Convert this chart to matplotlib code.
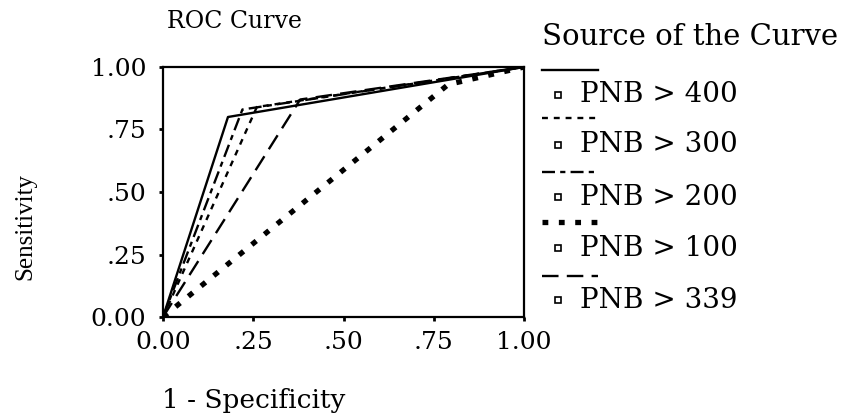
import matplotlib
matplotlib.use("Agg")
import matplotlib.pyplot as plt
from matplotlib.lines import Line2D

# ROC points (1 - specificity, sensitivity)
series_labels = ["PNB > 400", "PNB > 300", "PNB > 200", "PNB > 100", "PNB > 339"]
fpr_400 = [0.0, 0.18, 1.0]
tpr_400 = [0.0, 0.80, 1.0]
fpr_300 = [0.0, 0.26, 1.0]
tpr_300 = [0.0, 0.84, 1.0]
fpr_200 = [0.0, 0.22, 1.0]
tpr_200 = [0.0, 0.83, 1.0]
fpr_100 = [0.0, 0.79, 1.0]
tpr_100 = [0.0, 0.93, 1.0]
fpr_339 = [0.0, 0.38, 1.0]
tpr_339 = [0.0, 0.87, 1.0]

tick_values = [0.0, 0.25, 0.5, 0.75, 1.0]
tick_labels = ["0.00", ".25", ".50", ".75", "1.00"]

series = [
    (fpr_400, tpr_400),
    (fpr_300, tpr_300),
    (fpr_200, tpr_200),
    (fpr_100, tpr_100),
    (fpr_339, tpr_339),
]
styles = [
    dict(lw=1.7),
    dict(lw=1.7, dashes=(2.5, 2.5)),
    dict(lw=1.7, dashes=(5.5, 2.2, 2.2, 2.2)),
    dict(lw=3.8, dashes=(1.1, 2.0)),
    dict(lw=1.7, dashes=(7, 3.5)),
]

plt.rcParams["font.family"] = "DejaVu Serif"

W, H = 856, 415
fig = plt.figure(figsize=(W / 100, H / 100), dpi=100)
ax = fig.add_axes([163 / W, 1 - 317 / H, 361 / W, 250 / H])

for (x, y), st in zip(series, styles):
    ax.plot(x, y, color="black", **st)

ax.set_xlim(0, 1)
ax.set_ylim(0, 1)
ax.set_xticks(tick_values)
ax.set_xticklabels(tick_labels)
ax.set_yticks(tick_values)
ax.set_yticklabels(tick_labels)
ax.tick_params(direction="out", length=3, width=2, labelsize=18, pad=7)
ax.tick_params(axis="y", pad=9)
for sp in ax.spines.values():
    sp.set_linewidth(1.6)
    sp.set_color("black")

# titles and axis labels
fig.text(167 / W, 1 - 21 / H, "ROC Curve", fontsize=17, ha="left", va="center")
fig.text(162 / W, 1 - 400 / H, "1 - Specificity", fontsize=19, ha="left", va="center")
fig.text(25 / W, 1 - 227 / H, "Sensitivity", fontsize=18, rotation=90,
         ha="center", va="center", family="Liberation Serif")

# legend drawn by hand: line sample on one row, square + label below
fig.text(542 / W, 1 - 37 / H, "Source of the Curve", fontsize=21, ha="left", va="center")
line_rows = [70, 118, 172, 222, 276]
text_rows = [95, 145, 197, 248, 300]
for lab, st, ly, ty in zip(series_labels, styles, line_rows, text_rows):
    fig.add_artist(Line2D([542 / W, 598 / W], [1 - ly / H, 1 - ly / H],
                          transform=fig.transFigure, color="black", **st))
    fig.add_artist(Line2D([558 / W], [1 - ty / H], transform=fig.transFigure,
                          marker="s", markersize=5, markerfacecolor="white",
                          markeredgecolor="black", markeredgewidth=1.2, linestyle="none"))
    fig.text(580 / W, 1 - ty / H, lab, fontsize=20, ha="left", va="center")

fig.savefig("out.png", dpi=100)
